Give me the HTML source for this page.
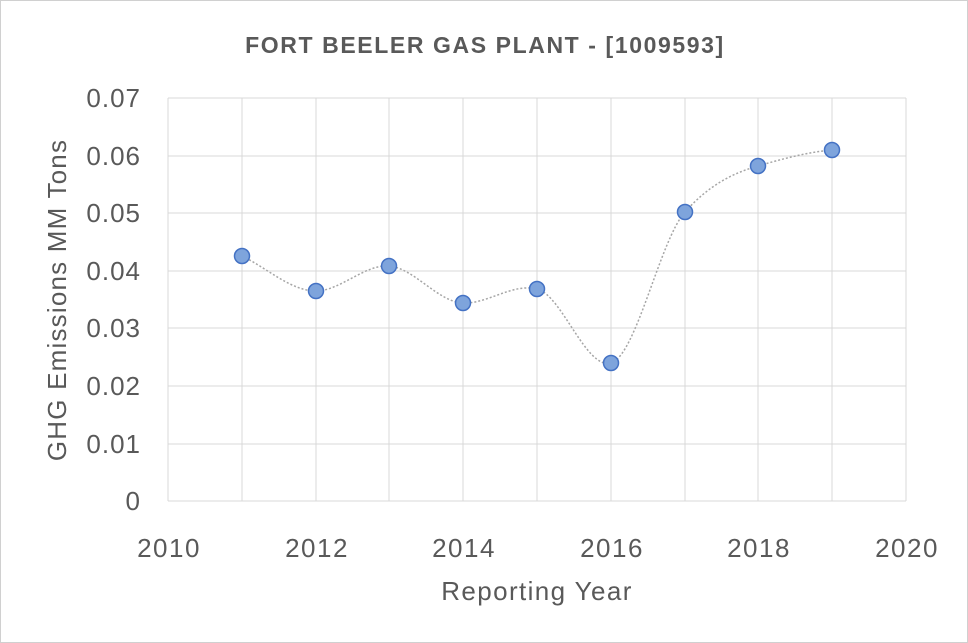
<!DOCTYPE html>
<html><head><meta charset="utf-8"><style>
html,body{margin:0;padding:0;background:#fff;}
svg{display:block;font-family:"Liberation Sans",sans-serif;}
</style></head><body>
<svg width="968" height="643" viewBox="0 0 968 643">
<rect x="0.5" y="0.5" width="967" height="642" fill="#fff" stroke="#d0d0d0"/>
<text x="485" y="53" text-anchor="middle" font-size="23" font-weight="bold" fill="#595959" letter-spacing="1.6">FORT BEELER GAS PLANT - [1009593]</text>
<g stroke="#d9d9d9" stroke-width="1">
<line x1="168" y1="98" x2="906" y2="98"/><line x1="168" y1="156" x2="906" y2="156"/>
<line x1="168" y1="213" x2="906" y2="213"/><line x1="168" y1="271" x2="906" y2="271"/>
<line x1="168" y1="328" x2="906" y2="328"/><line x1="168" y1="386" x2="906" y2="386"/>
<line x1="168" y1="444" x2="906" y2="444"/><line x1="168" y1="501" x2="906" y2="501"/>
<line x1="168" y1="98" x2="168" y2="501"/><line x1="242" y1="98" x2="242" y2="501"/>
<line x1="316" y1="98" x2="316" y2="501"/><line x1="389" y1="98" x2="389" y2="501"/>
<line x1="463" y1="98" x2="463" y2="501"/><line x1="537" y1="98" x2="537" y2="501"/>
<line x1="611" y1="98" x2="611" y2="501"/><line x1="685" y1="98" x2="685" y2="501"/>
<line x1="758" y1="98" x2="758" y2="501"/><line x1="832" y1="98" x2="832" y2="501"/>
<line x1="906" y1="98" x2="906" y2="501"/>
</g>
<g font-size="26" fill="#595959" text-anchor="end" letter-spacing="1">
<text x="141" y="107">0.07</text><text x="141" y="165">0.06</text><text x="141" y="222">0.05</text>
<text x="141" y="280">0.04</text><text x="141" y="337">0.03</text><text x="141" y="395">0.02</text>
<text x="141" y="453">0.01</text><text x="141" y="510">0</text>
</g>
<g font-size="26" fill="#595959" text-anchor="middle" letter-spacing="1.5">
<text x="169" y="557">2010</text><text x="317" y="557">2012</text><text x="464" y="557">2014</text>
<text x="612" y="557">2016</text><text x="759" y="557">2018</text><text x="907" y="557">2020</text>
</g>
<text x="537" y="600" text-anchor="middle" font-size="26" fill="#595959" letter-spacing="1.4">Reporting Year</text>
<text transform="translate(66,300) rotate(-90)" text-anchor="middle" font-size="26" fill="#595959" letter-spacing="1.2">GHG Emissions MM Tons</text>
<path d="M242,256 C267,268 291,291 316,291 C340,291 365,264 389,266 C414,268 438,302 463,303 C488,304 512,283 537,289 C562,295 586,370 611,363 C636,356 660,240 685,212 C709,185 733,173 758,166 C782,159 808,152 832,150" fill="none" stroke="#a6a6a6" stroke-width="1.5" stroke-dasharray="2,2"/>
<g fill="#7ea4dc" stroke="#4472c4" stroke-width="1.5">
<circle cx="242" cy="256" r="7.5"/><circle cx="316" cy="291" r="7.5"/><circle cx="389" cy="266" r="7.5"/>
<circle cx="463" cy="303" r="7.5"/><circle cx="537" cy="289" r="7.5"/><circle cx="611" cy="363" r="7.5"/>
<circle cx="685" cy="212" r="7.5"/><circle cx="758" cy="166" r="7.5"/><circle cx="832" cy="150" r="7.5"/>
</g>
</svg>
</body></html>
